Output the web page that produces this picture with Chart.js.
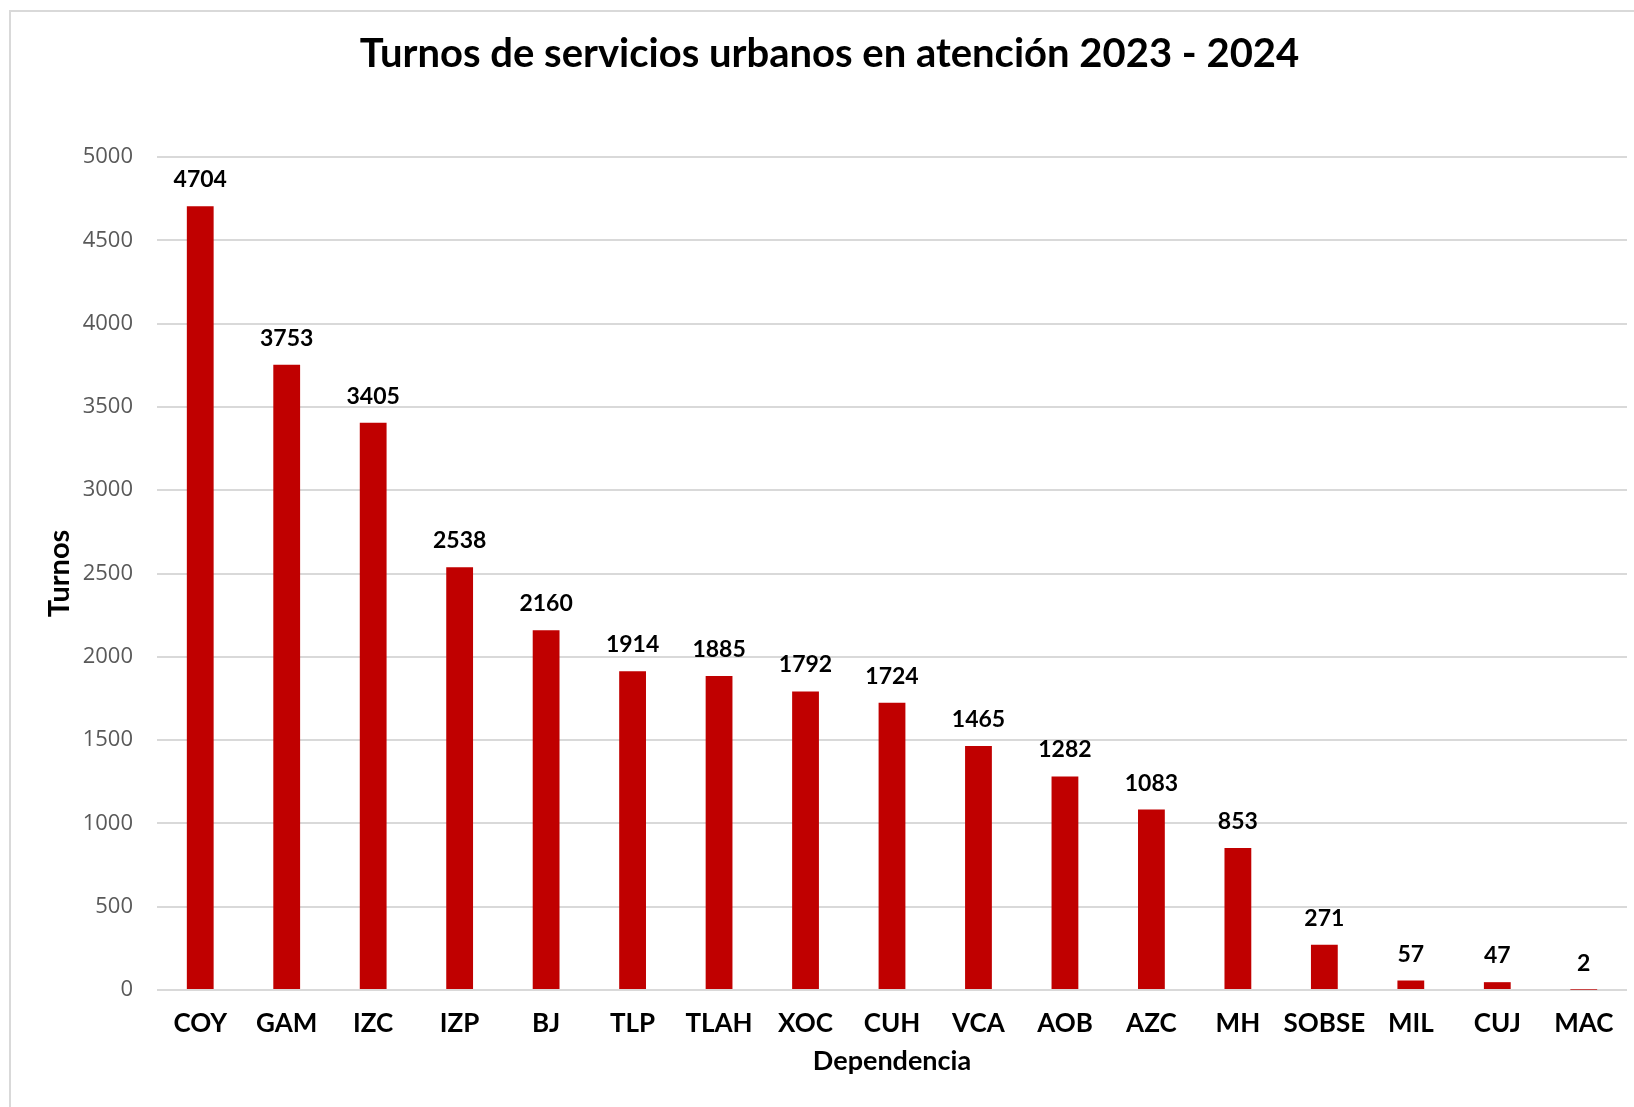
<!DOCTYPE html>
<html>
<head>
<meta charset="utf-8">
<script src="https://cdn.jsdelivr.net/npm/chart.js@4.4.1/dist/chart.umd.min.js"></script>
<style>
  html, body { margin: 0; padding: 0; background: #fff; overflow: hidden; }
  #wrap { position: relative; width: 1634px; height: 1107px; }
  #frame {
    position: absolute; left: 9px; top: 10px; width: 1640px; height: 1120px;
    border: 2px solid #d9d9d9; box-sizing: border-box; pointer-events: none;
  }
  canvas { position: absolute; left: 0; top: 0; }
</style>
</head>
<body>
<div id="wrap">
  <canvas id="turnosChart" width="1634" height="1107"></canvas>
  <div id="frame"></div>
</div>
<script>
const dependencias = ['COY', 'GAM', 'IZC', 'IZP', 'BJ', 'TLP', 'TLAH', 'XOC', 'CUH', 'VCA', 'AOB', 'AZC', 'MH', 'SOBSE', 'MIL', 'CUJ', 'MAC'];
const turnos = [4704, 3753, 3405, 2538, 2160, 1914, 1885, 1792, 1724, 1465, 1282, 1083, 853, 271, 57, 47, 2];
const yMin = 0;
const yMax = 5000;
const yStep = 500;

// etiquetas de valor encima de cada barra
const valueLabels = {
    id: 'valueLabels',
    afterDatasetsDraw(chart) {
        const ctx = chart.ctx;
        const meta = chart.getDatasetMeta(0);
        ctx.save();
        ctx.font = 'bold 23px Lato';
        ctx.fillStyle = '#000';
        ctx.textAlign = 'center';
        ctx.textBaseline = 'alphabetic';
        meta.data.forEach(function(bar, i) {
            ctx.fillText(String(turnos[i]), bar.x, bar.y - 19);
        });
        ctx.restore();
    }
};

const ctx = document.getElementById('turnosChart').getContext('2d');
new Chart(ctx, {
    type: 'bar',
    data: {
        labels: dependencias,
        datasets: [{
            label: 'Turnos',
            data: turnos,
            backgroundColor: '#c00000',
            borderWidth: 0,
            barPercentage: 0.31,
            categoryPercentage: 1
        }]
    },
    options: {
        responsive: false,
        animation: false,
        layout: {
            padding: { left: 32, right: 7, top: 0, bottom: 0 }
        },
        plugins: {
            legend: { display: false },
            tooltip: { enabled: false },
            title: {
                display: true,
                text: 'Turnos de servicios urbanos en atención 2023 - 2024',
                color: '#000',
                font: { family: 'Lato', size: 40, weight: 'bold' },
                padding: { top: 30, bottom: 79 }
            }
        },
        scales: {
            x: {
                grid: { display: false, drawTicks: false },
                border: { display: false },
                ticks: {
                    color: '#000',
                    padding: 18,
                    maxRotation: 0,
                    autoSkip: false,
                    font: { family: 'Lato', size: 26, weight: 'bold' }
                },
                title: {
                    display: true,
                    text: 'Dependencia',
                    color: '#000',
                    font: { family: 'Lato', size: 27, weight: 'bold' },
                    padding: { top: 0, bottom: 30 }
                },
                afterFit(scale) { scale.height = 117; }
            },
            y: {
                min: yMin,
                max: yMax,
                grid: { color: '#d9d9d9', lineWidth: 2, drawTicks: false },
                border: { display: false },
                ticks: {
                    stepSize: yStep,
                    color: '#595959',
                    padding: 24,
                    font: { family: 'Open Sans', size: 22 },
                    callback: function(value) { return String(value); }
                },
                title: {
                    display: true,
                    text: 'Turnos',
                    color: '#000',
                    font: { family: 'Lato', size: 29, weight: 'bold' },
                    padding: { top: 10, bottom: 0 }
                },
                afterFit(scale) { scale.width = 125; }
            }
        }
    },
    plugins: [valueLabels]
});
</script>
</body>
</html>
